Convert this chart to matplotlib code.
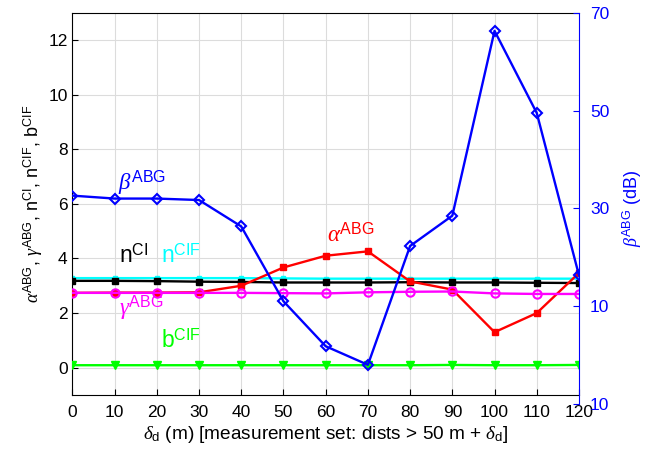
import numpy as np
import matplotlib
matplotlib.use('Agg')
import matplotlib.pyplot as plt

plt.rcParams['font.family'] = ['Liberation Sans', 'DejaVu Sans']
plt.rcParams['mathtext.fontset'] = 'custom'
plt.rcParams['mathtext.rm'] = 'Liberation Sans'
plt.rcParams['mathtext.sf'] = 'Liberation Sans'
plt.rcParams['mathtext.it'] = 'Liberation Serif:italic'

# data
delta_d = [0, 10, 20, 30, 40, 50, 60, 70, 80, 90, 100, 110, 120]
alpha_abg = [2.74, 2.75, 2.75, 2.76, 3.0, 3.67, 4.1, 4.26, 3.16, 2.86, 1.30, 2.0, 3.47]
gamma_abg = [2.74, 2.74, 2.74, 2.74, 2.74, 2.73, 2.72, 2.76, 2.78, 2.79, 2.72, 2.70, 2.70]
n_ci = [3.18, 3.18, 3.17, 3.15, 3.14, 3.12, 3.12, 3.12, 3.13, 3.12, 3.12, 3.11, 3.10]
n_cif = [3.28, 3.28, 3.28, 3.28, 3.28, 3.27, 3.26, 3.26, 3.26, 3.26, 3.26, 3.26, 3.26]
b_cif = [0.09, 0.09, 0.09, 0.09, 0.09, 0.09, 0.09, 0.09, 0.09, 0.10, 0.09, 0.09, 0.10]
beta_abg = [32.6, 32.0, 32.0, 31.7, 26.3, 11.0, 1.8, -2.0, 22.3, 28.5, 66.3, 49.5, 16.3]

xticks = np.arange(0, 121, 10)
right_ticks = [-10, 10, 30, 50, 70]
right_ticklabels = ['10', '10', '30', '50', '70']

fig = plt.figure(figsize=(6.52, 4.58), dpi=100)
ax1 = fig.add_axes([0.111, 0.1376, 0.777, 0.8346])

lw = 1.7
ax1.plot(delta_d, n_cif, '-', color='#00ffff', lw=lw, marker='s', ms=3, zorder=2)
ax1.plot(delta_d, n_ci, '-', color='k', lw=lw, marker='s', ms=5, zorder=3)
ax1.plot(delta_d, alpha_abg, '-', color='#ff0000', lw=lw, marker='s', ms=5, zorder=4)
ax1.plot(delta_d, gamma_abg, '-', color='#ff00ff', lw=lw, marker='o', ms=6,
         mfc='none', mew=1.5, zorder=5)
ax1.plot(delta_d, b_cif, '-', color='#00ff00', lw=lw, marker='v', ms=6,
         mfc='#00ff00', zorder=5)

ax1.set_xlim(0, 120)
ax1.set_ylim(-1, 13)
ax1.set_xticks(xticks)
ax1.set_yticks(np.arange(0, 13, 2))
ax1.tick_params(direction='in', labelsize=12.5, length=4)
ax1.tick_params(axis='x', pad=7)
ax1.grid(True, color='#dcdcdc', linewidth=0.8)
ax1.set_axisbelow(True)
ax1.spines['right'].set_visible(False)
ax1.set_xlabel(r'$\delta_{\mathsf{d}}$ (m) [measurement set: dists > 50 m + $\delta_{\mathsf{d}}$]',
               fontsize=13.7, labelpad=3)
ax1.set_ylabel(r'$\alpha^{\mathsf{ABG}}$, $\gamma^{\mathsf{ABG}}$, n$^{\mathsf{CI}}$, '
               r'n$^{\mathsf{CIF}}$, b$^{\mathsf{CIF}}$', fontsize=13, labelpad=2)

ax1.text(10.8, 6.5, r'$\beta^{\mathsf{ABG}}$', color='#0000ff', fontsize=16.5)
ax1.text(60.3, 4.6, r'$\alpha^{\mathsf{ABG}}$', color='#ff0000', fontsize=16.5)
ax1.text(11.0, 3.84, r'n$^{\mathsf{CI}}$', color='k', fontsize=16.5)
ax1.text(21.0, 3.84, r'n$^{\mathsf{CIF}}$', color='#00ffff', fontsize=16.5)
ax1.text(11.0, 1.95, r'$\gamma^{\mathsf{ABG}}$', color='#ff00ff', fontsize=16.5)
ax1.text(21.0, 0.74, r'b$^{\mathsf{CIF}}$', color='#00ff00', fontsize=16.5)

# right axis (beta, dB), slightly taller than the left one
ax2 = fig.add_axes([0.111, 0.118, 0.777, 0.8542])
ax2.patch.set_visible(False)
ax2.plot(delta_d, beta_abg, '-', color='#0000ff', lw=lw, marker='D', ms=5,
         mfc='none', mew=1.5)
ax2.set_xlim(0, 120)
ax2.set_ylim(-10, 70)
ax2.set_yticks(right_ticks)
ax2.set_yticklabels(right_ticklabels)
ax2.xaxis.set_visible(False)
ax2.yaxis.tick_right()
ax2.yaxis.set_label_position('right')
for s in ['left', 'top', 'bottom']:
    ax2.spines[s].set_visible(False)
ax2.spines['right'].set_color('#0000ff')
ax2.tick_params(axis='y', direction='in', colors='#0000ff', labelsize=12.5,
                length=4, pad=8)
ax2.set_ylabel(r'$\beta^{\mathsf{ABG}}$ (dB)', color='#0000ff', fontsize=13,
               labelpad=8)

fig.savefig('out.png', dpi=100)
